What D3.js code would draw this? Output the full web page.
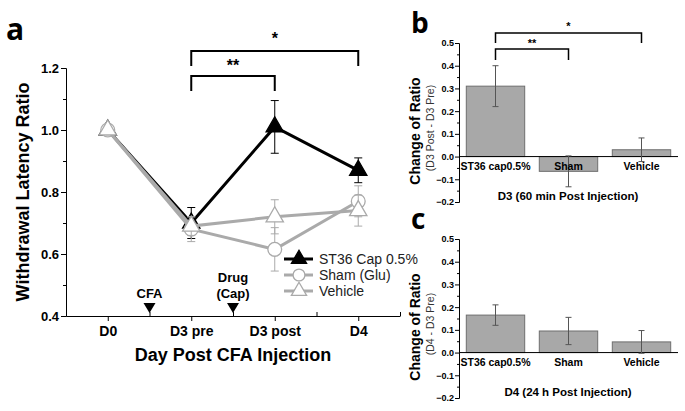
<!DOCTYPE html>
<html>
<head>
<meta charset="utf-8">
<script src="https://cdn.jsdelivr.net/npm/d3@7"></script>
<style>
  body { margin: 0; background: #fff; }
  svg { display: block; font-family: "Liberation Sans", Arial, sans-serif; }
</style>
</head>
<body>
<script>
// Panel a data
const days = ["D0", "D3 pre", "D3 post", "D4"];
const st36 = [1.0, 0.70, 1.01, 0.87];
const st36Err = [0, 0.05, 0.085, 0.04];
const sham = [1.0, 0.68, 0.615, 0.77];
const shamErr = [0, 0.04, 0.07, 0.05];
const vehicle = [1.0, 0.69, 0.72, 0.74];
const vehicleErr = [0, 0.03, 0.055, 0.05];
const ratioTicks = [0.4, 0.6, 0.8, 1.0, 1.2];

// Panels b and c data
const groups = ["ST36 cap0.5%", "Sham", "Vehicle"];
const d3Change = [0.31, -0.065, 0.03];
const d3Err = [0.09, 0.068, 0.052];
const d4Change = [0.165, 0.095, 0.047];
const d4Err = [0.045, 0.06, 0.05];
const changeTicks = [-0.2, -0.1, 0.0, 0.1, 0.2, 0.3, 0.4, 0.5];

const svg = d3.select("body").append("svg")
    .attr("width", 685)
    .attr("height", 411);

// ---------- panel a ----------
const x = d3.scaleLinear().domain([-0.5, 3.5]).range([66, 400]);
const y = d3.scaleLinear().domain([0.4, 1.2]).range([316, 68]);

const ga = svg.append("g");

ga.append("text").attr("x", 6).attr("y", 40)
    .style("font-family", "'Open Sans', sans-serif")
    .style("font-weight", "bold").style("font-size", "30px").text("a");

// y axis
const yAxis = ga.append("g").attr("transform", "translate(66,0)")
    .call(d3.axisLeft(y).tickValues(ratioTicks).tickFormat(d3.format(".1f")).tickSize(5));
yAxis.selectAll("text").style("font-size", "13px").style("font-weight", "bold").attr("x", -7);
ga.append("g").attr("transform", "translate(66,0)")
    .call(d3.axisLeft(y).tickValues(d3.range(0.5, 1.2, 0.2)).tickFormat("").tickSize(3))
    .select(".domain").remove();

// x axis
const xAxis = ga.append("g").attr("transform", "translate(0,316)")
    .call(d3.axisBottom(x).tickValues(d3.range(0, 4)).tickFormat(i => days[i]).tickSize(5).tickSizeOuter(0));
xAxis.selectAll("text").style("font-size", "14px").style("font-weight", "bold").attr("y", 10);
ga.append("g").attr("transform", "translate(0,316)")
    .call(d3.axisTop(x).tickValues([0.5, 1.5, 2.5, 3.5]).tickFormat("").tickSize(4))
    .select(".domain").remove();

ga.append("text").attr("transform", "translate(29,192) rotate(-90)")
    .attr("text-anchor", "middle").style("font-weight", "bold").style("font-size", "18px")
    .text("Withdrawal Latency Ratio");
ga.append("text").attr("x", 233).attr("y", 361).attr("text-anchor", "middle")
    .style("font-weight", "bold").style("font-size", "18px").text("Day Post CFA Injection");

// event markers
const events = [{ at: 0.5, lines: ["CFA"] }, { at: 1.5, lines: ["Drug", "(Cap)"] }];
events.forEach(ev => {
    const cx = x(ev.at);
    ga.append("path").attr("d", `M${cx - 6},303 L${cx + 6},303 L${cx},313 Z`).attr("fill", "#000");
    ev.lines.forEach((t, k) => {
        ga.append("text").attr("x", cx).attr("y", 298 - (ev.lines.length - 1 - k) * 16)
            .attr("text-anchor", "middle").style("font-weight", "bold").style("font-size", "13px").text(t);
    });
});

const series = [
    { name: "ST36 Cap 0.5%", vals: st36, err: st36Err, color: "#000", fill: "#000", shape: d3.symbolTriangle },
    { name: "Sham (Glu)", vals: sham, err: shamErr, color: "#aaa", fill: "#fff", shape: d3.symbolCircle },
    { name: "Vehicle", vals: vehicle, err: vehicleErr, color: "#aaa", fill: "#fff", shape: d3.symbolTriangle }
];

const line = d3.line().x((d, i) => x(i)).y(d => y(d));

series.forEach(s => {
    const g = ga.append("g");
    s.vals.forEach((v, i) => {
        if (!s.err[i]) return;
        const cx = x(i), y0 = y(v - s.err[i]), y1 = y(v + s.err[i]);
        g.append("path").attr("d", `M${cx},${y0}V${y1}M${cx - 4},${y0}H${cx + 4}M${cx - 4},${y1}H${cx + 4}`)
            .attr("stroke", s.color).attr("stroke-width", 1).attr("fill", "none");
    });
    g.append("path").datum(s.vals).attr("d", line)
        .attr("fill", "none").attr("stroke", s.color).attr("stroke-width", 3);
    g.selectAll("path.pt").data(s.vals).join("path").attr("class", "pt")
        .attr("transform", (d, i) => `translate(${x(i)},${y(d)})`)
        .attr("d", d3.symbol().type(s.shape).size(s.shape === d3.symbolCircle ? 150 : 130))
        .attr("fill", s.fill).attr("stroke", s.color).attr("stroke-width", 1.3);
});

// legend
series.forEach((s, k) => {
    const ly = 259 + k * 16;
    const g = ga.append("g").attr("transform", `translate(284,${ly})`);
    g.append("line").attr("x1", 0).attr("x2", 29).attr("stroke", s.color).attr("stroke-width", 3);
    g.append("path").attr("transform", "translate(15,0)")
        .attr("d", d3.symbol().type(s.shape).size(s.shape === d3.symbolCircle ? 110 : 100))
        .attr("fill", s.fill).attr("stroke", s.color).attr("stroke-width", 1.3);
    g.append("text").attr("x", 35).attr("y", 5).style("font-size", "14px").attr("fill", "#222").text(s.name);
});

// significance brackets
function bracket(g, x0, x1, yTop, legY0, legY1, label, fs, ty) {
    g.append("path").attr("d", `M${x0},${legY0}V${yTop}H${x1}V${legY1}`)
        .attr("fill", "none").attr("stroke", "#000").attr("stroke-width", 2);
    g.append("text").attr("x", (x0 + x1) / 2).attr("y", ty).attr("text-anchor", "middle")
        .style("font-weight", "bold").style("font-size", fs).text(label);
}
bracket(ga, x(1), x(2), 76, 91, 91, "**", "16px", 71);
bracket(ga, x(1), x(3), 51, 66, 66, "*", "16px", 44);

// ---------- panels b and c ----------
function barPanel(top, letter, vals, errs, title, sub) {
    const yb = d3.scaleLinear().domain([-0.2, 0.5]).range([top + 159, top]);
    const xb = d3.scaleBand().domain(groups).range([459, 678]).paddingInner(0.2).paddingOuter(0.1);
    const g = svg.append("g");

    g.append("text").attr("x", 411).attr("y", top - 10)
        .style("font-family", "'Open Sans', sans-serif")
        .style("font-weight", "bold").style("font-size", "28px").text(letter);

    const ax = g.append("g").attr("transform", "translate(459,0)")
        .call(d3.axisLeft(yb).tickValues(changeTicks).tickFormat(d3.format(".1f")).tickSize(4));
    ax.selectAll("text").style("font-size", "9px").style("font-weight", "bold").attr("x", -5);
    g.append("g").attr("transform", "translate(459,0)")
        .call(d3.axisLeft(yb).tickValues(d3.range(-0.15, 0.5, 0.1)).tickFormat("").tickSize(2))
        .select(".domain").remove();

    g.selectAll("rect").data(vals).join("rect")
        .attr("x", (d, i) => xb(groups[i]))
        .attr("width", xb.bandwidth())
        .attr("y", d => yb(Math.max(0, d)))
        .attr("height", d => Math.abs(yb(d) - yb(0)))
        .attr("fill", "#a8a8a8").attr("stroke", "#6e6e6e").attr("stroke-width", 1);

    g.append("line").attr("x1", 459).attr("x2", 678).attr("y1", yb(0)).attr("y2", yb(0))
        .attr("stroke", "#000").attr("stroke-width", 1);

    vals.forEach((v, i) => {
        const cx = xb(groups[i]) + xb.bandwidth() / 2;
        const y0 = yb(v - errs[i]), y1 = yb(v + errs[i]);
        g.append("path").attr("d", `M${cx},${y0}V${y1}M${cx - 3},${y0}H${cx + 3}M${cx - 3},${y1}H${cx + 3}`)
            .attr("stroke", "#555").attr("stroke-width", 1).attr("fill", "none");
        g.append("text").attr("x", cx).attr("y", yb(0) + 13).attr("text-anchor", "middle")
            .style("font-size", "10.5px").style("font-weight", "bold").text(groups[i]);
    });

    g.append("text").attr("transform", `translate(420,${top + 88}) rotate(-90)`)
        .attr("text-anchor", "middle").style("font-weight", "bold").style("font-size", "14px").text("Change of Ratio");
    g.append("text").attr("transform", `translate(434,${top + 85}) rotate(-90)`)
        .attr("text-anchor", "middle").style("font-size", "10.5px").attr("fill", "#333").text(sub);
    g.append("text").attr("x", 568).attr("y", top + 157).attr("text-anchor", "middle")
        .style("font-weight", "bold").style("font-size", "11.5px").text(title);
    return { g, xb, yb };
}

const pb = barPanel(43, "b", d3Change, d3Err, "D3 (60 min Post Injection)", "(D3 Post - D3 Pre)");
barPanel(239, "c", d4Change, d4Err, "D4 (24 h Post Injection)", "(D4 - D3 Pre)");

const cB = i => pb.xb(groups[i]) + pb.xb.bandwidth() / 2;
pb.g.append("path").attr("d", `M${cB(0)},60V49H${cB(1)}V60`).attr("fill", "none").attr("stroke", "#000").attr("stroke-width", 1.5);
pb.g.append("text").attr("x", (cB(0) + cB(1)) / 2).attr("y", 47).attr("text-anchor", "middle")
    .style("font-weight", "bold").style("font-size", "11px").text("**");
pb.g.append("path").attr("d", `M${cB(0)},43V33H${cB(2)}V43`).attr("fill", "none").attr("stroke", "#000").attr("stroke-width", 1.5);
pb.g.append("text").attr("x", (cB(0) + cB(2)) / 2).attr("y", 30).attr("text-anchor", "middle")
    .style("font-weight", "bold").style("font-size", "11px").text("*");
</script>
</body>
</html>
